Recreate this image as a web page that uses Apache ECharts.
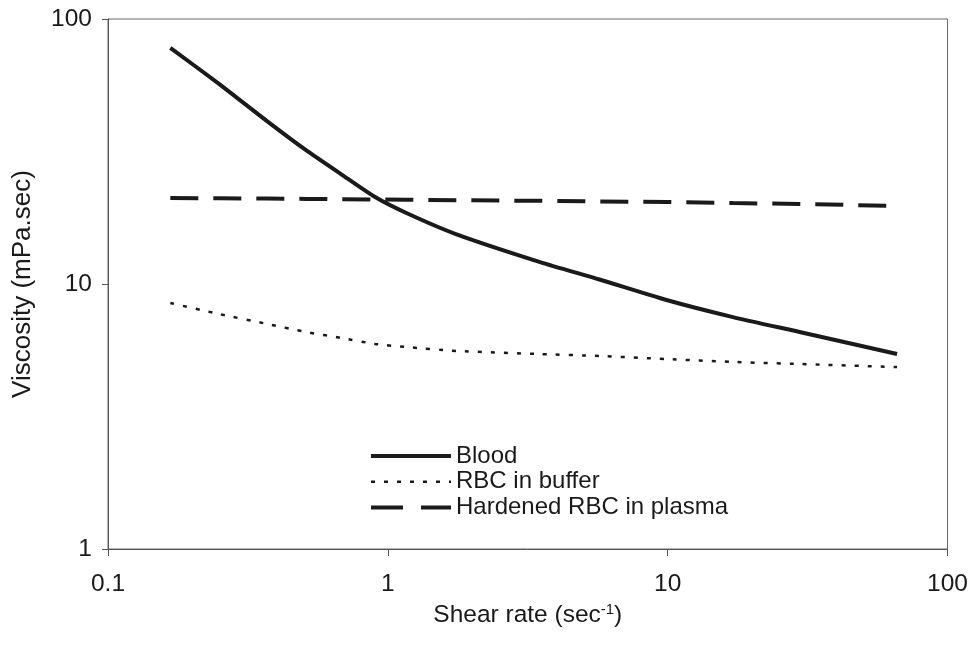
<!DOCTYPE html>
<html lang="en">
<head>
    <meta charset="UTF-8">
    <title>Viscosity vs shear rate</title>
    <script src="https://cdn.jsdelivr.net/npm/echarts@6/dist/echarts.min.js"></script>
    <style>
        html, body { margin: 0; padding: 0; background: #fff; }
        #chart { width: 971px; height: 650px; }
    </style>
</head>
<body>
<div id="chart"></div>
<script>
    // shear rate (sec-1)
    var shearRate = [0.167, 0.25, 0.37, 0.51, 0.68, 0.9, 1.17, 1.76, 3.5, 5.7, 9.9, 17.1, 29.6, 66];
    // viscosity (mPa.sec) for each series
    var blood     = [77.8, 56.8, 41.2, 32.0, 26.0, 21.3, 18.5, 15.4, 12.1, 10.4, 8.7, 7.5, 6.59, 5.44];
    var rbcBuffer = [8.48, 7.7, 7.07, 6.59, 6.26, 5.94, 5.78, 5.59, 5.44, 5.35, 5.21, 5.08, 4.99, 4.86];
    var hardened  = [21.1, 21.05, 21.0, 20.95, 20.9, 20.85, 20.8, 20.7, 20.6, 20.5, 20.4, 20.2, 20.05, 19.7];
    var seriesNames = ['Blood', 'RBC in buffer', 'Hardened RBC in plasma'];

    function pairs(ys) {
        var out = [];
        for (var i = 0; i < shearRate.length; i++) {
            out.push([shearRate[i], ys[i]]);
        }
        return out;
    }

    var font = 'Arial, "Liberation Sans", sans-serif';
    var ink = '#1a1a1a';
    var lineTypes = [
        { color: ink, width: 4, type: 'solid' },
        { color: ink, width: 2.5, type: [4, 9] },
        { color: ink, width: 4, type: [28, 15] }
    ];

    var myChart = echarts.init(document.getElementById('chart'));
    var option = {
        animation: false,
        backgroundColor: '#fff',
        textStyle: { fontFamily: font, color: ink },
        grid: {
            left: 108, right: 23, top: 19, bottom: 101,
            show: true, borderColor: '#666', borderWidth: 1
        },
        legend: {
            show: true,
            orient: 'vertical',
            left: 364,
            top: 439,
            itemWidth: 80,
            itemHeight: 14,
            itemGap: 1.8,
            textStyle: { fontFamily: font, fontSize: 24, color: ink },
            data: [
                { name: seriesNames[0], lineStyle: lineTypes[0], itemStyle: { opacity: 0 } },
                { name: seriesNames[1], lineStyle: lineTypes[1], itemStyle: { opacity: 0 } },
                { name: seriesNames[2], lineStyle: { color: ink, width: 4, type: [32, 18] }, itemStyle: { opacity: 0 } }
            ]
        },
        xAxis: {
            type: 'log',
            logBase: 10,
            min: 0.1,
            max: 100,
            name: 'Shear rate (sec{sup|-1})',
            nameLocation: 'middle',
            nameGap: 41,
            nameTextStyle: {
                fontFamily: font, fontSize: 24.5, color: ink,
                rich: { sup: { fontFamily: font, fontSize: 15, color: ink, padding: [0, 0, 12, 0] } }
            },
            axisLine: { show: true, lineStyle: { color: '#555', width: 1 } },
            axisTick: { show: true, length: 7, lineStyle: { color: '#555' } },
            minorTick: { show: false },
            splitLine: { show: false },
            axisLabel: {
                fontFamily: font, fontSize: 24.5, color: ink, margin: 23,
                formatter: function (v) { return String(v); }
            }
        },
        yAxis: {
            type: 'log',
            logBase: 10,
            min: 1,
            max: 100,
            name: 'Viscosity (mPa.sec)',
            nameLocation: 'middle',
            nameGap: 72,
            nameTextStyle: { fontFamily: font, fontSize: 26, color: ink },
            axisLine: { show: true, lineStyle: { color: '#555', width: 1 } },
            axisTick: { show: true, length: 6, lineStyle: { color: '#555' } },
            splitLine: { show: false },
            axisLabel: {
                fontFamily: font, fontSize: 24.5, color: ink, margin: 16,
                formatter: function (v) { return String(v); }
            }
        },
        series: [
            {
                name: seriesNames[0],
                type: 'line',
                data: pairs(blood),
                symbol: 'none',
                smooth: 0.2,
                lineStyle: lineTypes[0],
                itemStyle: { color: ink }
            },
            {
                name: seriesNames[1],
                type: 'line',
                data: pairs(rbcBuffer),
                symbol: 'none',
                smooth: 0.2,
                lineStyle: lineTypes[1],
                itemStyle: { color: ink }
            },
            {
                name: seriesNames[2],
                type: 'line',
                data: pairs(hardened),
                symbol: 'none',
                lineStyle: lineTypes[2],
                itemStyle: { color: ink }
            }
        ]
    };
    myChart.setOption(option);
</script>
</body>
</html>
